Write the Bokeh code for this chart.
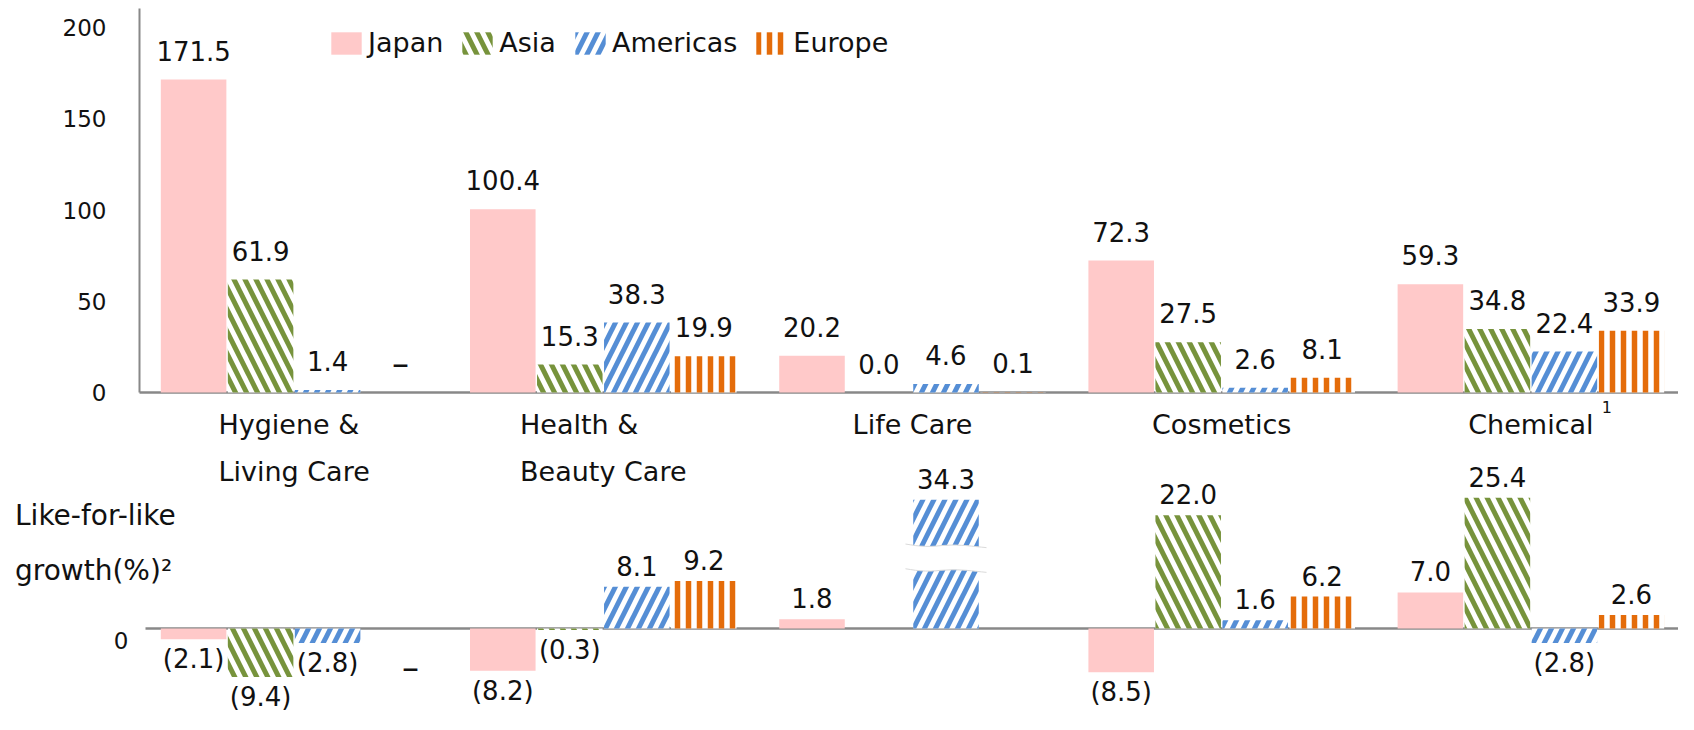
from bokeh.plotting import figure
from bokeh.models import (Range1d, ColumnDataSource, LabelSet, Label, Legend, LegendItem)
from bokeh.core.properties import value
from bokeh.embed import file_html
from bokeh.resources import INLINE

# ---------------- data ----------------
categories = ["Hygiene &\nLiving Care", "Health &\nBeauty Care", "Life Care", "Cosmetics", "Chemical"]
regions = ["Japan", "Asia", "Americas", "Europe"]
DASH = "\u2013"   # no figure reported

sales_japan = [171.5, 100.4, 20.2, 72.3, 59.3]
sales_asia = [61.9, 15.3, 0.0, 27.5, 34.8]
sales_americas = [1.4, 38.3, 4.6, 2.6, 22.4]
sales_europe = [DASH, 19.9, 0.1, 8.1, 33.9]

lfl_japan = [-2.1, -8.2, 1.8, -8.5, 7.0]
lfl_asia = [-9.4, -0.3, None, 22.0, 25.4]
lfl_americas = [-2.8, 8.1, 34.3, 1.6, -2.8]
lfl_europe = [DASH, 9.2, None, 6.2, 2.6]

sales_ticks = [0, 50, 100, 150, 200]
lfl_ticks = [0]
lfl_axis_label = "Like-for-like\ngrowth(%)\u00b2"
chemical_note = "1"

sales = [sales_japan, sales_asia, sales_americas, sales_europe]
lfl = [lfl_japan, lfl_asia, lfl_americas, lfl_europe]

# ---------------- styles ----------------
FONT = "DejaVu Sans"
TXT = "#111111"
AXIS_GREY = "#888888"
styles = [
    dict(fill_color="#FFC9C9", line_color=None),
    dict(fill_color="white", line_color=None, hatch_pattern="\\", hatch_color="#77933C",
         hatch_scale=22, hatch_weight=5),
    dict(fill_color="white", line_color=None, hatch_pattern="/", hatch_color="#558ED5",
         hatch_scale=22, hatch_weight=5),
    dict(fill_color="white", line_color=None, hatch_pattern="|", hatch_color="#E46C0A",
         hatch_scale=11, hatch_weight=5.5),
]
STEP = 0.2167
BAR_W = 0.212
offsets = [(k - 1.5) * STEP for k in range(4)]
LFL_BREAK_ABOVE = 30.0   # bars above this value are drawn broken ...
LFL_CAP = 25.0           # ... and cut to this height
BREAK_LO, BREAK_HI = 11.3, 16.1
SALES_TOP = 210.4

W, H = 1678, 714
PX = 309.2            # pixels per category
LEFT = 139            # pixel of the value axis
TOP_ZERO, TOP_SCALE = 392, 1.825
LFL_ZERO, LFL_SCALE = 628, 5.15
X_END = -0.5 + (W - LEFT) / PX

p = figure(width=W, height=H, output_backend="svg", toolbar_location=None,
           x_range=Range1d(-0.5 - LEFT / PX, X_END),
           y_range=Range1d(-(H - TOP_ZERO) / TOP_SCALE, TOP_ZERO / TOP_SCALE),
           min_border_left=0, min_border_right=0, min_border_top=0, min_border_bottom=0)
p.extra_y_ranges = {"lfl": Range1d(-(H - LFL_ZERO) / LFL_SCALE, LFL_ZERO / LFL_SCALE)}
p.xaxis.visible = False
p.yaxis.visible = False
p.xgrid.visible = False
p.ygrid.visible = False
p.outline_line_color = None

# value axis line, zero lines
p.segment(x0=[-0.5], y0=[0], x1=[-0.5], y1=[SALES_TOP], line_color=AXIS_GREY, line_width=2)
p.segment(x0=[-0.5], y0=[0], x1=[X_END], y1=[0], line_color=AXIS_GREY, line_width=2.5)
p.segment(x0=[-0.5 + 6 / PX], y0=[0], x1=[X_END], y1=[0], line_color=AXIS_GREY,
          line_width=2.5, y_range_name="lfl")

# tick labels
p.add_layout(LabelSet(source=ColumnDataSource(dict(x=[-0.5] * len(sales_ticks), y=sales_ticks,
                                                   t=[str(t) for t in sales_ticks])),
                      x="x", y="y", text="t", x_offset=-33,
                      text_font=value(FONT), text_font_size="23px", text_color=TXT,
                      text_align="right", text_baseline="middle"))
p.add_layout(LabelSet(source=ColumnDataSource(dict(x=[-0.5] * len(lfl_ticks), y=lfl_ticks,
                                                   t=[str(t) for t in lfl_ticks])),
                      x="x", y="y", text="t", x_offset=-11, y_offset=-12, y_range_name="lfl",
                      text_font=value(FONT), text_font_size="23px", text_color=TXT,
                      text_align="right", text_baseline="middle"))

def fmt(v):
    if v is None:
        return ""
    if v == DASH:
        return DASH
    return f"({abs(v):.1f})" if v < 0 else f"{v:.1f}"

legend_items = []
up_top = dict(x=[], y=[], t=[])
dash_top = dict(x=[], y=[], t=[])
up_b = dict(x=[], y=[], t=[])
dn_b = dict(x=[], y=[], t=[])
dash_b = dict(x=[], y=[], t=[])
for k, reg in enumerate(regions):
    xs, tops = [], []
    for i, v in enumerate(sales[k]):
        x = i + offsets[k]
        if v == DASH:
            dash_top["x"].append(x); dash_top["y"].append(0); dash_top["t"].append(DASH)
            continue
        xs.append(x); tops.append(v)
        up_top["x"].append(x); up_top["y"].append(v); up_top["t"].append(fmt(v))
    r = p.vbar(x=xs, top=tops, bottom=0, width=BAR_W, **styles[k])
    legend_items.append(LegendItem(label=reg, renderers=[r]))

    bx, bt = [], []
    for i, v in enumerate(lfl[k]):
        x = i + offsets[k]
        if v is None:
            continue
        if v == DASH:
            dash_b["x"].append(x); dash_b["y"].append(0); dash_b["t"].append(DASH)
            continue
        disp = LFL_CAP if v > LFL_BREAK_ABOVE else v
        bx.append(x); bt.append(disp)
        if v >= 0:
            up_b["x"].append(x); up_b["y"].append(disp); up_b["t"].append(fmt(v))
        else:
            dn_b["x"].append(x); dn_b["y"].append(v); dn_b["t"].append(fmt(v))
        if v > LFL_BREAK_ABOVE:
            # white gap that marks the broken bar
            x0 = x - BAR_W / 2 - 0.025
            x1 = x + BAR_W / 2 + 0.025
            n = 16
            px = [x0 + (x1 - x0) * j / n for j in range(n + 1)]
            wave = [0.3, 0.15, 0.0, -0.1, -0.15, -0.15, -0.1, 0.0, 0.05, 0.1, 0.1, 0.05, 0.0, -0.1, -0.2, -0.3, -0.4]
            lo = [BREAK_LO + w for w in wave]
            hi = [BREAK_HI + w for w in wave]
            p.patch(px + px[::-1], lo + hi[::-1], fill_color="white", line_color=None,
                    y_range_name="lfl", level="overlay")
            p.line(px, lo, line_color="#DADADA", line_width=1, y_range_name="lfl", level="overlay")
            p.line(px, hi, line_color="#DADADA", line_width=1, y_range_name="lfl", level="overlay")
    p.vbar(x=bx, top=bt, bottom=0, width=BAR_W, y_range_name="lfl", **styles[k])

lab = dict(text_font=value(FONT), text_font_size="26px", text_color=TXT,
           text_align="center", text_baseline="middle")
dlab = dict(lab, text_font_size="34px")
p.add_layout(LabelSet(source=ColumnDataSource(up_top), x="x", y="y", text="t",
                      y_offset=29, **lab))
p.add_layout(LabelSet(source=ColumnDataSource(dash_top), x="x", y="y", text="t",
                      y_offset=30, x_offset=6, **dlab))
p.add_layout(LabelSet(source=ColumnDataSource(up_b), x="x", y="y", text="t",
                      y_offset=21, y_range_name="lfl", **lab))
p.add_layout(LabelSet(source=ColumnDataSource(dn_b), x="x", y="y", text="t",
                      y_offset=-20, y_range_name="lfl", **lab))
p.add_layout(LabelSet(source=ColumnDataSource(dash_b), x="x", y="y", text="t",
                      y_offset=-38, x_offset=16, y_range_name="lfl", **dlab))

# category labels
cat_src = ColumnDataSource(dict(x=list(range(len(categories))), y=[0] * len(categories), t=categories))
p.add_layout(LabelSet(source=cat_src, x="x", y="y", text="t", y_offset=-16,
                      text_font=value(FONT), text_font_size="27px", text_color=TXT,
                      text_align="center", text_baseline="top", text_line_height=1.54))
p.add_layout(Label(x=len(categories) - 1, y=0, x_offset=76, y_offset=-14, text=chemical_note,
                   text_font=FONT, text_font_size="16px", text_color=TXT, text_align="center",
                   text_baseline="middle"))

# lower panel title
p.add_layout(Label(x=-0.5, y=0, y_range_name="lfl", x_offset=-124.5, y_offset=LFL_ZERO - 542.5,
                   text=lfl_axis_label, text_font=FONT, text_font_size="28px", text_color=TXT,
                   text_align="left", text_baseline="middle", text_line_height=1.67))

legend = Legend(items=legend_items, orientation="horizontal", location=(327, 656),
                glyph_width=38, glyph_height=28, label_standoff=3, spacing=15,
                padding=0, margin=0, border_line_color=None, background_fill_alpha=0,
                label_text_font=FONT, label_text_font_size="27px", label_text_color=TXT,
                label_height=28)
p.add_layout(legend)

open("out.html", "w").write(file_html(p, INLINE))
